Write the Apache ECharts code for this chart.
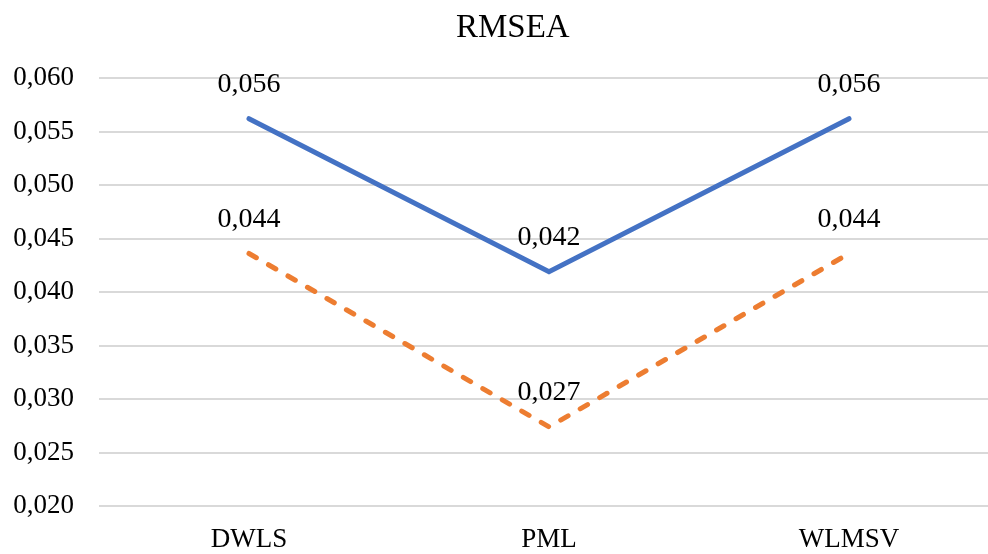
<!DOCTYPE html>
<html>
<head>
<meta charset="utf-8">
<style>
  html, body { margin: 0; padding: 0; background: #ffffff; overflow: hidden; }
  #chart { width: 1010px; height: 554px; }
</style>
<script src="https://cdn.jsdelivr.net/npm/echarts@6/dist/echarts.min.js"></script>
</head>
<body>
<div id="chart"></div>
<script>
// RMSEA by estimation method
const titleText = 'RMSEA';
const categories = ['DWLS', 'PML', 'WLMSV'];
const seriesA = [0.0562, 0.0419, 0.0562];   // solid blue
const seriesB = [0.0436, 0.0274, 0.0436];   // dashed orange
const yMin = 0.020, yMax = 0.060, yStep = 0.005;

const fmt = (v, d) => v.toFixed(d).replace('.', ',');
const serif = '"Liberation Serif", "Times New Roman", serif';

const chart = echarts.init(document.getElementById('chart'), null, { renderer: 'canvas' });

const labelStyle = {
  show: true,
  position: 'top',
  distance: 20,
  color: '#000000',
  fontFamily: serif,
  fontSize: 28,
  formatter: p => fmt(p.value, 3)
};

chart.setOption({
  animation: false,
  backgroundColor: '#ffffff',
  title: {
    text: titleText,
    left: 451,
    top: 7,
    textStyle: { fontFamily: serif, fontSize: 33, fontWeight: 'normal', color: '#000000' }
  },
  grid: { left: 99, width: 900, top: 78, bottom: 48, containLabel: false },
  xAxis: {
    type: 'category',
    data: categories,
    boundaryGap: true,
    axisLine: { show: false },
    axisTick: { show: false },
    axisLabel: { color: '#000000', fontFamily: serif, fontSize: 27, margin: 20 }
  },
  yAxis: {
    type: 'value',
    min: yMin,
    max: yMax,
    interval: yStep,
    axisLine: { show: false },
    axisTick: { show: false },
    splitLine: { lineStyle: { color: '#d9d9d9', width: 2 } },
    axisLabel: {
      color: '#000000', fontFamily: serif, fontSize: 27, margin: 25,
      formatter: v => fmt(v, 3)
    }
  },
  series: [
    {
      name: 'A',
      type: 'line',
      data: seriesA,
      symbol: 'circle',
      symbolSize: 0,
      showSymbol: true,
      lineStyle: { color: '#4472C4', width: 5, cap: 'round', join: 'miter' },
      itemStyle: { color: '#4472C4' },
      label: labelStyle,
      z: 3
    },
    {
      name: 'B',
      type: 'line',
      data: seriesB,
      symbol: 'circle',
      symbolSize: 0,
      showSymbol: true,
      lineStyle: { color: '#ED7D31', width: 5, type: [8.5, 14], cap: 'round', join: 'round' },
      itemStyle: { color: '#ED7D31' },
      label: labelStyle,
      z: 2
    }
  ]
});
</script>
</body>
</html>
